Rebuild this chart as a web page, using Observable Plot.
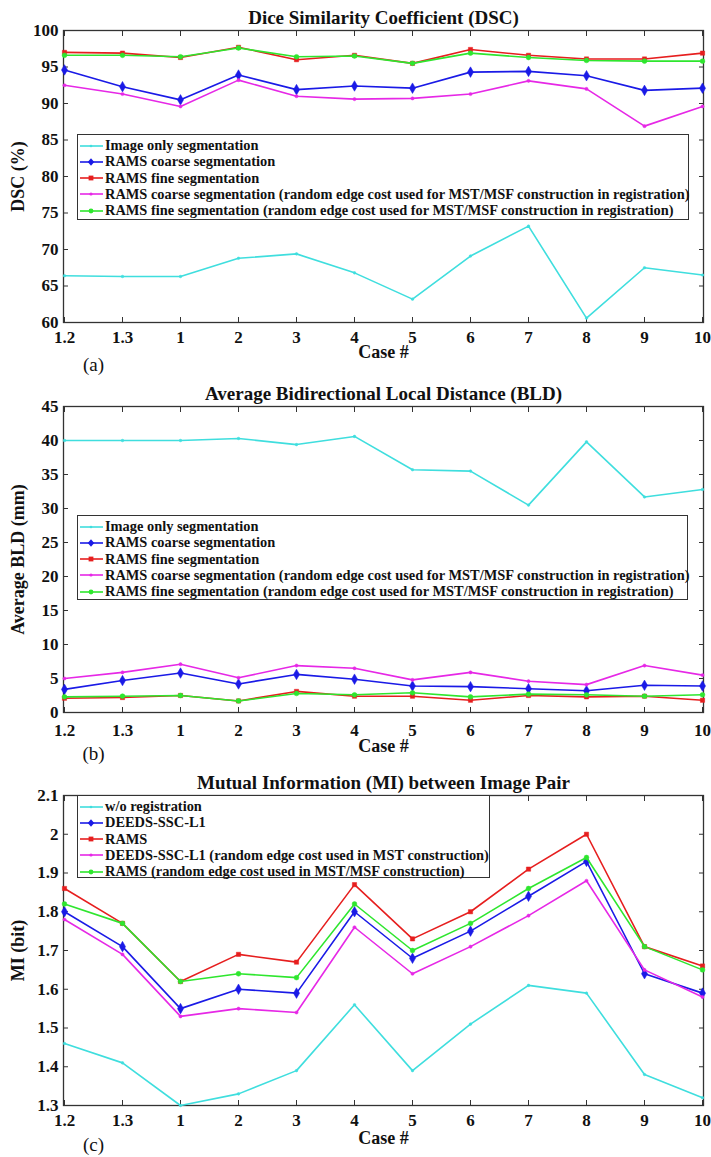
<!DOCTYPE html>
<html><head><meta charset="utf-8">
<script src="https://cdn.jsdelivr.net/npm/d3@7"></script>
<script src="https://cdn.jsdelivr.net/npm/@observablehq/plot@0.6"></script>
<style>
body{margin:0;background:#fff;}
#root{position:relative;width:711px;height:1157px;font-family:'Liberation Serif',serif;}
#root svg{display:block;}
.legend{position:absolute;background:#fff;border:1px solid #333;box-sizing:border-box;}
.legend .row{position:absolute;left:0;height:16px;display:flex;align-items:center;white-space:nowrap;font-weight:bold;font-size:14.4px;color:#111;font-family:'Liberation Serif',serif;}
.legend .row svg{display:block;margin-right:1px;}
</style></head><body><div id="root"></div><script>
// ---- data ----
const cases = ["1.2","1.3","1","2","3","4","5","6","7","8","9","10"];

const segSeries = [
  "Image only segmentation",
  "RAMS coarse segmentation",
  "RAMS fine segmentation",
  "RAMS coarse segmentation (random edge cost used for MST/MSF construction in registration)",
  "RAMS fine segmentation (random edge cost used for MST/MSF construction in registration)"
];
const miSeries = [
  "w/o registration",
  "DEEDS-SSC-L1",
  "RAMS",
  "DEEDS-SSC-L1 (random edge cost used in MST construction)",
  "RAMS (random edge cost used in MST/MSF construction)"
];

const dscImageOnly    = [66.4, 66.3, 66.3, 68.8, 69.4, 66.8, 63.2, 69.1, 73.2, 60.6, 67.5, 66.5];
const dscCoarse       = [94.6, 92.3, 90.5, 93.9, 91.9, 92.4, 92.1, 94.3, 94.4, 93.8, 91.8, 92.1];
const dscFine         = [97.0, 96.9, 96.3, 97.7, 96.0, 96.6, 95.5, 97.4, 96.6, 96.1, 96.1, 96.9];
const dscCoarseRandom = [92.5, 91.3, 89.6, 93.2, 91.0, 90.6, 90.7, 91.3, 93.1, 92.0, 86.9, 89.6];
const dscFineRandom   = [96.6, 96.6, 96.4, 97.6, 96.4, 96.5, 95.5, 96.9, 96.3, 95.9, 95.8, 95.8];

const bldImageOnly    = [40.0, 40.0, 40.0, 40.3, 39.4, 40.6, 35.7, 35.5, 30.5, 39.8, 31.7, 32.8];
const bldCoarse       = [3.4, 4.7, 5.8, 4.2, 5.6, 4.9, 3.9, 3.8, 3.5, 3.2, 4.0, 3.9];
const bldFine         = [2.1, 2.2, 2.5, 1.7, 3.1, 2.4, 2.4, 1.8, 2.5, 2.3, 2.4, 1.8];
const bldCoarseRandom = [5.0, 5.9, 7.1, 5.1, 6.9, 6.5, 4.8, 5.9, 4.6, 4.1, 6.9, 5.5];
const bldFineRandom   = [2.3, 2.4, 2.5, 1.7, 2.8, 2.6, 2.9, 2.3, 2.7, 2.6, 2.4, 2.6];

const miNoReg        = [1.46, 1.41, 1.30, 1.33, 1.39, 1.56, 1.39, 1.51, 1.61, 1.59, 1.38, 1.32];
const miDeeds        = [1.80, 1.71, 1.55, 1.60, 1.59, 1.80, 1.68, 1.75, 1.84, 1.93, 1.64, 1.59];
const miRams         = [1.86, 1.77, 1.62, 1.69, 1.67, 1.87, 1.73, 1.80, 1.91, 2.00, 1.71, 1.66];
const miDeedsRandom  = [1.78, 1.69, 1.53, 1.55, 1.54, 1.76, 1.64, 1.71, 1.79, 1.88, 1.65, 1.58];
const miRamsRandom   = [1.82, 1.77, 1.62, 1.64, 1.63, 1.82, 1.70, 1.77, 1.86, 1.94, 1.71, 1.65];

const dscTicks = [60, 65, 70, 75, 80, 85, 90, 95, 100];
const bldTicks = [0, 5, 10, 15, 20, 25, 30, 35, 40, 45];
const miTicks  = [1.3, 1.4, 1.5, 1.6, 1.7, 1.8, 1.9, 2.0, 2.1];

// ---- styles ----
const colors  = ["#3fdede", "#1a1ae6", "#e61e1e", "#e628e6", "#2ee62e"];
const symbols = ["circle", "diamond", "square", "circle", "circle"];
const radii   = [1.3, 3.2, 2.4, 1.6, 2.4];
const FONT = "'Liberation Serif', serif";
const AX = "#333";

function panel({values, series, yDomain, yTicks, yFormat, title, ylabel, tag, height, marginTop, marginBottom, caseDy, tagDy, xPad}) {
  const rows = [];
  series.forEach((s, si) => values[si].forEach((v, i) => rows.push({series: s, si, c: cases[i], v})));
  const marks = [
    Plot.frame({stroke: AX, strokeWidth: 1.3}),
    Plot.axisX({anchor: "bottom", tickSize: -5, tickFormat: () => "", label: null, stroke: AX}),
    Plot.axisX({anchor: "top", tickSize: -5, tickFormat: () => "", label: null, stroke: AX}),
    Plot.axisY({anchor: "left", ticks: yTicks, tickSize: -5, tickFormat: () => "", label: null, stroke: AX}),
    Plot.axisY({anchor: "right", ticks: yTicks, tickSize: -5, tickFormat: () => "", label: null, stroke: AX}),
    Plot.axisX({anchor: "bottom", tickSize: 0, tickPadding: xPad, label: null, fontSize: 17, fontWeight: "bold", fill: "#111"}),
    Plot.axisY({anchor: "left", ticks: yTicks, tickSize: 0, tickPadding: 5, tickFormat: yFormat, label: null, fontSize: 17, fontWeight: "bold", fill: "#111"}),
    Plot.text([title], {text: d => d, frameAnchor: "top", dy: -13, lineAnchor: "middle", fontSize: 19, fontWeight: "bold", fill: "#111"}),
    Plot.text(["Case #"], {text: d => d, frameAnchor: "bottom", dy: caseDy, lineAnchor: "middle", fontSize: 18, fontWeight: "bold", fill: "#111"}),
    Plot.text([tag], {text: d => d, frameAnchor: "bottom-left", dx: 30, dy: tagDy, textAnchor: "middle", lineAnchor: "middle", fontSize: 19, fill: "#111"}),
    Plot.text([ylabel], {text: d => d, frameAnchor: "left", dx: -45, rotate: -90, textAnchor: "middle", lineAnchor: "middle", fontSize: 18, fontWeight: "bold", fill: "#111"})
  ];
  series.forEach((s, si) => {
    const d = rows.filter(r => r.si === si);
    marks.push(Plot.line(d, {x: "c", y: "v", stroke: colors[si], strokeWidth: 1.6}));
    marks.push(Plot.dot(d, {x: "c", y: "v", fill: colors[si], stroke: colors[si], strokeWidth: 0.5, symbol: symbols[si], r: radii[si]}));
  });
  return Plot.plot({
    width: 711, height, marginTop, marginBottom, marginLeft: 63, marginRight: 8,
    style: {fontFamily: FONT, fontSize: "16px", color: "#111", background: "#fff"},
    x: {type: "point", domain: cases, padding: 0},
    y: {domain: yDomain},
    marks
  });
}

function markerSvg(si) {
  const c = colors[si], cx = 13, cy = 8, r = radii[si];
  let m = "";
  if (symbols[si] === "diamond") m = `<path d="M${cx},${cy - r * 1.2}L${cx + r},${cy}L${cx},${cy + r * 1.2}L${cx - r},${cy}Z" fill="${c}"/>`;
  else if (symbols[si] === "square") m = `<rect x="${cx - r}" y="${cy - r}" width="${2 * r}" height="${2 * r}" fill="${c}"/>`;
  else m = `<circle cx="${cx}" cy="${cy}" r="${r}" fill="${c}"/>`;
  return `<svg width="26" height="16"><line x1="2" x2="25" y1="8" y2="8" stroke="${c}" stroke-width="1.6"/>${m}</svg>`;
}

function legend(series, left, top, width, height) {
  const div = document.createElement("div");
  div.className = "legend";
  Object.assign(div.style, {left: left + "px", top: top + "px", width: width + "px", height: height + "px"});
  series.forEach((s, i) => {
    const row = document.createElement("div");
    row.className = "row";
    row.style.top = (2.5 + i * 16.3) + "px";
    row.innerHTML = markerSvg(i) + `<span>${s}</span>`;
    div.appendChild(row);
  });
  return div;
}

const root = document.getElementById("root");
root.appendChild(panel({
  values: [dscImageOnly, dscCoarse, dscFine, dscCoarseRandom, dscFineRandom],
  series: segSeries, yDomain: [60, 100], yTicks: dscTicks, yFormat: d => String(d),
  title: "Dice Similarity Coefficient (DSC)", ylabel: "DSC (%)", tag: "(a)",
  height: 375, marginTop: 30, marginBottom: 53, caseDy: 30, tagDy: 42, xPad: 8
}));
root.appendChild(panel({
  values: [bldImageOnly, bldCoarse, bldFine, bldCoarseRandom, bldFineRandom],
  series: segSeries, yDomain: [0, 45], yTicks: bldTicks, yFormat: d => String(d),
  title: "Average Bidirectional Local Distance (BLD)", ylabel: "Average BLD (mm)", tag: "(b)",
  height: 390, marginTop: 31, marginBottom: 53, caseDy: 34, tagDy: 41, xPad: 11
}));
root.appendChild(panel({
  values: [miNoReg, miDeeds, miRams, miDeedsRandom, miRamsRandom],
  series: miSeries, yDomain: [1.3, 2.1], yTicks: miTicks, yFormat: d => String(+d.toFixed(1)),
  title: "Mutual Information (MI) between Image Pair", ylabel: "MI (bit)", tag: "(c)",
  height: 392, marginTop: 30, marginBottom: 52, caseDy: 33, tagDy: 39, xPad: 8
}));
root.appendChild(legend(segSeries, 77, 134, 612, 86));
root.appendChild(legend(segSeries, 77, 515, 611, 85));
root.appendChild(legend(miSeries, 77, 795, 413, 83));
</script></body></html>
